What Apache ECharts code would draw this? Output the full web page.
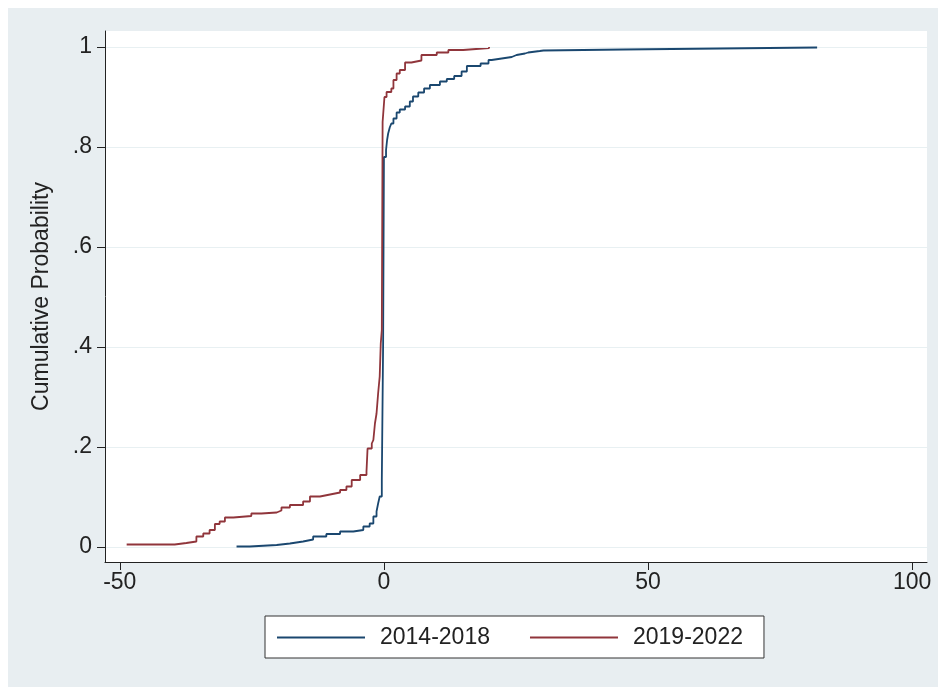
<!DOCTYPE html>
<html>
<head>
<meta charset="utf-8">
<script src="https://cdn.jsdelivr.net/npm/echarts@6/dist/echarts.min.js"></script>
<style>
  html, body { margin: 0; padding: 0; background: #ffffff; }
  #chart { position: absolute; left: 8px; top: 8px; width: 930px; height: 679px; }
</style>
</head>
<body>
<div id="chart"></div>
<script>
const blueX = [-27.9, -25.4, -20.3, -17.8, -15.3, -13.4, -10.9, -8.3, -5.8, -3.9, -2.7, -2.0, -1.4, -1.1, -0.8, -0.4, -0.15, 0.0,
  0.4, 0.6, 0.8, 1.1, 1.4, 1.8, 2.4, 3.0, 4.0, 4.9, 5.5, 6.5, 7.6, 8.7, 10.6, 11.9, 13.3, 14.7, 15.7, 18.3, 19.8, 20.4,
  22.3, 24.2, 25.1, 26.7, 27.3, 29.5, 30.2, 45.3, 82.0];
const blueP = [0.001, 0.004, 0.007, 0.011, 0.015, 0.021, 0.026, 0.031, 0.034, 0.041, 0.047, 0.061, 0.071, 0.087, 0.101, 0.134, 0.41, 0.78,
  0.794, 0.814, 0.827, 0.839, 0.847, 0.857, 0.869, 0.875, 0.881, 0.891, 0.901, 0.909, 0.917, 0.924, 0.931, 0.936, 0.942, 0.951, 0.962, 0.967, 0.974, 0.977,
  0.98, 0.984, 0.987, 0.989, 0.992, 0.993, 0.995, 0.999, 1.0];

const redX = [-48.7, -39.6, -37.4, -35.5, -34.2, -33.0, -32.0, -31.1, -30.1, -28.5, -25.1, -23.2, -20.3, -19.4, -17.8, -15.3, -14.0, -12.1,
  -10.2, -8.3, -7.1, -6.1, -4.5, -3.3, -3.1, -2.3, -2.0, -1.7, -1.4, -1.1, -0.8, -0.6, -0.4, -0.25,
  0.1, 0.5, 1.4, 1.8, 2.4, 3.0, 4.0, 5.2, 7.1, 10.0, 12.2, 15.0, 19.9];
const redP = [0.005, 0.008, 0.011, 0.021, 0.027, 0.034, 0.046, 0.051, 0.059, 0.062, 0.067, 0.069, 0.073, 0.079, 0.084, 0.091, 0.101, 0.105,
  0.109, 0.114, 0.121, 0.134, 0.144, 0.151, 0.197, 0.207, 0.214, 0.247, 0.267, 0.307, 0.341, 0.407, 0.434, 0.85,
  0.90, 0.91, 0.917, 0.934, 0.947, 0.954, 0.969, 0.973, 0.984, 0.989, 0.994, 0.998, 1.0];

const seriesNames = ['2014-2018', '2019-2022'];
const xTicks = [-50, 0, 50, 100];
const yTicks = [0, 0.2, 0.4, 0.6, 0.8, 1];

const font = '"Liberation Sans", Arial, sans-serif';
const pairs = (xs, ps) => xs.map((x, i) => [x, ps[i]]);

const chart = echarts.init(document.getElementById('chart'));

chart.setOption({
  backgroundColor: '#e8eef1',
  animation: false,
  textStyle: { fontFamily: font },
  grid: {
    left: 97,
    top: 23,
    right: 11,
    bottom: 125,
    show: true,
    backgroundColor: '#ffffff',
    borderWidth: 0
  },
  legend: {
    data: seriesNames,
    left: 257,
    top: 608,
    orient: 'horizontal',
    icon: 'rect',
    backgroundColor: '#ffffff',
    borderColor: '#333333',
    borderWidth: 1,
    borderRadius: 0,
    padding: [10, 21, 9, 12],
    itemWidth: 88,
    itemHeight: 2,
    itemGap: 40,
    textStyle: {
      fontFamily: font,
      fontSize: 23,
      lineHeight: 23,
      color: '#222222',
      padding: [0, 0, 0, 10]
    }
  },
  xAxis: {
    type: 'value',
    min: -52.8,
    max: 102.8,
    axisLine: { show: true, onZero: false, lineStyle: { color: '#222222', width: 1 } },
    axisTick: { show: true, length: 8, customValues: xTicks, lineStyle: { color: '#222222' } },
    axisLabel: {
      customValues: xTicks,
      fontSize: 23,
      color: '#222222',
      margin: 9,
      fontFamily: font
    },
    splitLine: { show: false }
  },
  yAxis: {
    type: 'value',
    min: -0.03,
    max: 1.032,
    name: 'Cumulative Probability',
    nameLocation: 'middle',
    nameGap: 52,
    nameTextStyle: { fontSize: 23, color: '#222222', fontFamily: font },
    axisLine: { show: true, onZero: false, lineStyle: { color: '#222222', width: 1 } },
    axisTick: { show: true, length: 8, customValues: yTicks, lineStyle: { color: '#222222' } },
    axisLabel: {
      customValues: yTicks,
      fontSize: 23,
      color: '#222222',
      margin: 13,
      fontFamily: font,
      formatter: function (v) {
        if (v === 0) return '0';
        if (v === 1) return '1';
        return String(+v.toFixed(1)).replace('0.', '.');
      }
    },
    splitLine: { show: true, lineStyle: { color: '#e8f0f2', width: 1 } }
  },
  series: [
    {
      name: seriesNames[0],
      type: 'line',
      step: 'end',
      symbol: 'none',
      data: pairs(blueX, blueP),
      lineStyle: { color: '#1a476f', width: 1.8 },
      itemStyle: { color: '#1a476f' }
    },
    {
      name: seriesNames[1],
      type: 'line',
      step: 'end',
      symbol: 'none',
      data: pairs(redX, redP),
      lineStyle: { color: '#90353b', width: 1.8 },
      itemStyle: { color: '#90353b' }
    }
  ]
});

window.addEventListener('resize', () => chart.resize());
</script>
</body>
</html>
